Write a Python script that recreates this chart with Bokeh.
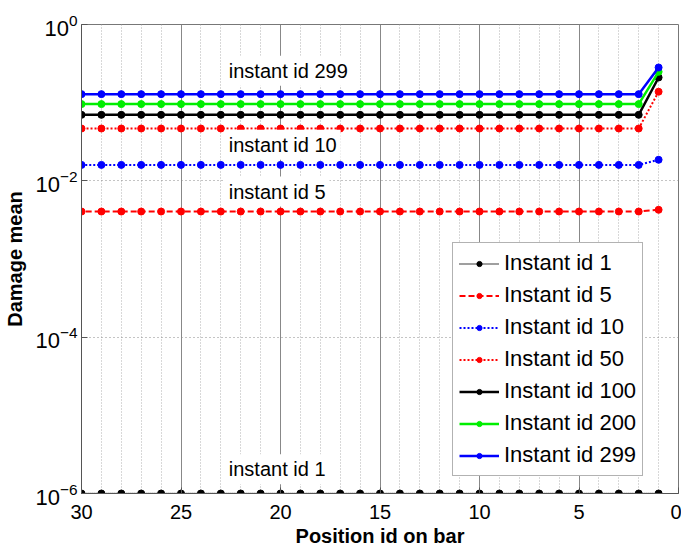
from bokeh.plotting import figure
from bokeh.models import Range1d, FixedTicker, ColumnDataSource, LegendItem, Legend
from bokeh.core.properties import value
from bokeh.embed import file_html
from bokeh.resources import INLINE

# ---------------- data ----------------
positions = [1, 2, 3, 4, 5, 6, 7, 8, 9, 10, 11, 12, 13, 14, 15,
             16, 17, 18, 19, 20, 21, 22, 23, 24, 25, 26, 27, 28, 29, 30]

damage_id1 = [1.0e-6, 1.0e-6, 1.0e-6, 1.0e-6, 1.0e-6, 1.0e-6, 1.0e-6, 1.0e-6, 1.0e-6, 1.0e-6,
              1.0e-6, 1.0e-6, 1.0e-6, 1.0e-6, 1.0e-6, 1.0e-6, 1.0e-6, 1.0e-6, 1.0e-6, 1.0e-6,
              1.0e-6, 1.0e-6, 1.0e-6, 1.0e-6, 1.0e-6, 1.0e-6, 1.0e-6, 1.0e-6, 1.0e-6, 1.0e-6]
damage_id5 = [4.26e-3, 4.05e-3, 4.05e-3, 4.05e-3, 4.05e-3, 4.05e-3, 4.05e-3, 4.05e-3, 4.05e-3, 4.05e-3,
              4.05e-3, 4.05e-3, 4.05e-3, 4.05e-3, 4.05e-3, 4.05e-3, 4.05e-3, 4.05e-3, 4.05e-3, 4.05e-3,
              4.05e-3, 4.05e-3, 4.05e-3, 4.05e-3, 4.05e-3, 4.05e-3, 4.05e-3, 4.05e-3, 4.05e-3, 4.05e-3]
damage_id10 = [0.0186, 0.0160, 0.0160, 0.0160, 0.0160, 0.0160, 0.0160, 0.0160, 0.0160, 0.0160,
               0.0160, 0.0160, 0.0160, 0.0160, 0.0160, 0.0160, 0.0160, 0.0160, 0.0160, 0.0160,
               0.0160, 0.0160, 0.0160, 0.0160, 0.0160, 0.0160, 0.0160, 0.0160, 0.0160, 0.0160]
damage_id50 = [0.138, 0.0467, 0.0467, 0.0467, 0.0467, 0.0467, 0.0467, 0.0467, 0.0467, 0.0467,
               0.0467, 0.0467, 0.0467, 0.0467, 0.0467, 0.0467, 0.0467, 0.0467, 0.0467, 0.0467,
               0.0467, 0.0467, 0.0467, 0.0467, 0.0467, 0.0467, 0.0467, 0.0467, 0.0467, 0.0467]
damage_id100 = [0.210, 0.0699, 0.0699, 0.0699, 0.0699, 0.0699, 0.0699, 0.0699, 0.0699, 0.0699,
                0.0699, 0.0699, 0.0699, 0.0699, 0.0699, 0.0699, 0.0699, 0.0699, 0.0699, 0.0699,
                0.0699, 0.0699, 0.0699, 0.0699, 0.0699, 0.0699, 0.0699, 0.0699, 0.0699, 0.0699]
damage_id200 = [0.248, 0.0958, 0.0958, 0.0958, 0.0958, 0.0958, 0.0958, 0.0958, 0.0958, 0.0958,
                0.0958, 0.0958, 0.0958, 0.0958, 0.0958, 0.0958, 0.0958, 0.0958, 0.0958, 0.0958,
                0.0958, 0.0958, 0.0958, 0.0958, 0.0958, 0.0958, 0.0958, 0.0958, 0.0958, 0.0958]
damage_id299 = [0.282, 0.1286, 0.1286, 0.1286, 0.1286, 0.1286, 0.1286, 0.1286, 0.1286, 0.1286,
                0.1286, 0.1286, 0.1286, 0.1286, 0.1286, 0.1286, 0.1286, 0.1286, 0.1286, 0.1286,
                0.1286, 0.1286, 0.1286, 0.1286, 0.1286, 0.1286, 0.1286, 0.1286, 0.1286, 0.1286]

series_labels = ["Instant id 1", "Instant id 5", "Instant id 10", "Instant id 50",
                 "Instant id 100", "Instant id 200", "Instant id 299"]
series_values = [damage_id1, damage_id5, damage_id10, damage_id50,
                 damage_id100, damage_id200, damage_id299]

annot_texts = ["instant id 299", "instant id 10", "instant id 5", "instant id 1"]
annot_x = [22.8, 22.8, 22.8, 22.8]
annot_y = [0.256, 0.0289, 0.0073, 2.05e-6]

x_major_ticks = [0, 5, 10, 15, 20, 25, 30]
x_minor_ticks = [1, 2, 3, 4, 6, 7, 8, 9, 11, 12, 13, 14, 16, 17, 18, 19,
                 21, 22, 23, 24, 26, 27, 28, 29]
y_ticks = [1e-6, 1e-4, 1e-2, 1.0]

# ---------------- styles ----------------
styles = [
    dict(color="#000000", dash="1 1", width=1.5),
    dict(color="#ff0000", dash="6 3", width=2),
    dict(color="#0000ff", dash="2 2", width=2),
    dict(color="#ff0000", dash="2 2", width=2),
    dict(color="#000000", dash="solid", width=2.5),
    dict(color="#00ee00", dash="solid", width=2.5),
    dict(color="#0000ff", dash="solid", width=2.5),
]

FONT = "Liberation Sans"

p = figure(width=681, height=550,
           x_range=Range1d(30, 0), y_range=Range1d(1e-6, 1),
           y_axis_type="log",
           output_backend="svg", toolbar_location=None,
           min_border_left=81, min_border_right=3,
           min_border_top=24, min_border_bottom=57)

p.background_fill_color = "white"
p.border_fill_color = "white"
p.outline_line_color = "#777777"
p.outline_line_width = 1

# axes
p.xaxis.ticker = FixedTicker(ticks=x_major_ticks, minor_ticks=x_minor_ticks)
p.yaxis.ticker = FixedTicker(ticks=y_ticks, minor_ticks=[])
for ax in (p.xaxis, p.yaxis):
    ax.major_tick_in = 6
    ax.major_tick_out = 0
    ax.minor_tick_in = 0
    ax.minor_tick_out = 0
    ax.axis_line_color = "#555555"
    ax.major_tick_line_color = "#555555"
    ax.major_label_text_font = FONT
    ax.major_label_text_color = "black"
    ax.axis_label_text_font = FONT
    ax.axis_label_text_font_size = "20px"
    ax.axis_label_text_font_style = "bold"
    ax.axis_label_text_color = "black"
p.xaxis.major_label_text_font_size = "20px"
p.yaxis.major_label_text_font_size = "22px"
p.xaxis.axis_label = "Position id on bar"
p.yaxis.axis_label = "Damage mean"
p.xaxis.major_label_standoff = 11
p.xaxis.axis_label_standoff = 3
p.yaxis.major_label_standoff = 4
p.yaxis.axis_label_standoff = 6

# grids
p.xgrid.grid_line_color = "#888888"
p.xgrid.grid_line_width = 1
p.xgrid.minor_grid_line_color = "#b0b0b0"
p.xgrid.minor_grid_line_dash = "1 2"
p.xgrid.minor_grid_line_width = 1
p.ygrid.grid_line_color = "#888888"
p.ygrid.grid_line_dash = "1 3"
p.ygrid.grid_line_width = 1

# series
legend_items = []
for lab, vals, st in zip(series_labels, series_values, styles):
    src = ColumnDataSource(dict(x=positions, y=vals))
    ln = p.line("x", "y", source=src, line_color=st["color"], line_width=st["width"],
                line_dash=st["dash"])
    sc = p.scatter("x", "y", source=src, size=7, fill_color=st["color"],
                   line_color=st["color"])
    legend_items.append(LegendItem(label=lab, renderers=[ln, sc]))

# annotations
asrc = ColumnDataSource(dict(x=annot_x, y=annot_y, t=annot_texts))
p.text("x", "y", text="t", source=asrc, text_font=value(FONT), text_font_size="20px",
       text_align="left", text_baseline="middle", text_color="black",
       background_fill_color="white", padding=4)

# legend
lg = Legend(items=legend_items)
p.add_layout(lg)
lg.location = (371, 17)
lg.label_text_font = FONT
lg.label_text_font_size = "22px"
lg.label_text_color = "black"
lg.label_height = 28
lg.glyph_height = 13
lg.glyph_width = 40
lg.spacing = 4
lg.padding = 6
lg.margin = 0
lg.label_standoff = 5
lg.border_line_color = "#666666"
lg.border_line_width = 1
lg.background_fill_color = "white"
lg.background_fill_alpha = 1.0

open("out.html", "w").write(file_html(p, INLINE))
